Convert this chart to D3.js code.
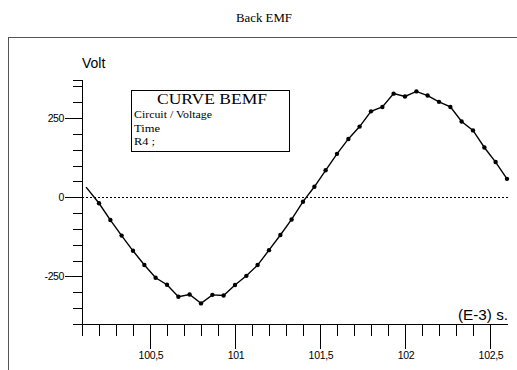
<!DOCTYPE html>
<html>
<head>
<meta charset="utf-8">
<script src="https://cdn.jsdelivr.net/npm/d3@7"></script>
<style>
  body { margin: 0; background: #fff; }
  svg { display: block; }
</style>
</head>
<body>
<svg id="chart" width="517" height="370"></svg>
<script>
// time in ms (E-3 s), voltage in V
const times = [100.124, 100.2, 100.267, 100.333, 100.4, 100.467, 100.533, 100.6, 100.667, 100.733,
    100.8, 100.867, 100.933, 101.0, 101.067, 101.133, 101.2, 101.267, 101.333, 101.4,
    101.467, 101.533, 101.6, 101.667, 101.733, 101.8, 101.867, 101.933, 102.0, 102.067,
    102.133, 102.2, 102.267, 102.333, 102.4, 102.467, 102.533, 102.6];
const volts = [32, -19, -72, -121, -169, -214, -254, -276, -314, -307,
    -335, -308, -310, -277, -248, -214, -167, -119, -70, -14,
    33, 85, 137, 184, 223, 271, 285, 327, 318, 334,
    321, 301, 285, 239, 211, 157, 111, 58];

const xMajor = [100.5, 101, 101.5, 102, 102.5];
const xMinor = [100.1, 100.2, 100.3, 100.4, 100.6, 100.7, 100.8, 100.9, 101.1, 101.2, 101.3, 101.4,
    101.6, 101.7, 101.8, 101.9, 102.1, 102.2, 102.3, 102.4];
const yMajor = [-250, 0, 250];
const yMinor = [-400, -350, -300, -200, -150, -100, -50, 50, 100, 150, 200, 300, 350, 370];

const legendLines = ["Circuit / Voltage", "Time", "R4 ;"];
const legendWidths = [78, 26, 21];

const sans = "'Liberation Sans', Arial, sans-serif";
const serif = "'Liberation Serif', 'Times New Roman', serif";

const svg = d3.select("#chart");
const data = times.map((t, i) => ({ t: t, v: volts[i] }));

const x = d3.scaleLinear().domain([100.1, 102.6]).range([82, 507]);
const y = d3.scaleLinear().domain([-400, 370]).range([324, 80]);
const fmt = d => String(d).replace(".", ",");

// outer frame (runs off the page)
svg.append("rect")
    .attr("x", 8.5).attr("y", 37.5)
    .attr("width", 540).attr("height", 360)
    .attr("fill", "none").attr("stroke", "#555");

svg.append("text")
    .attr("x", 264).attr("y", 21.5)
    .attr("text-anchor", "middle")
    .attr("font-family", serif).attr("font-size", 13.5)
    .attr("textLength", 56).attr("lengthAdjust", "spacingAndGlyphs")
    .text("Back EMF");

// y axis
const yAxisG = svg.append("g").attr("transform", "translate(82,0)");
yAxisG.append("line")
    .attr("x1", 0.5).attr("x2", 0.5)
    .attr("y1", y(370)).attr("y2", y(-400))
    .attr("stroke", "#000");
yAxisG.selectAll("line.minor")
    .data(yMinor)
    .join("line")
    .attr("class", "minor")
    .attr("x1", -9).attr("x2", 0.5)
    .attr("y1", d => Math.round(y(d)) + 0.5).attr("y2", d => Math.round(y(d)) + 0.5)
    .attr("stroke", "#000");
yAxisG.selectAll("line.major")
    .data(yMajor)
    .join("line")
    .attr("class", "major")
    .attr("x1", -17).attr("x2", 0.5)
    .attr("y1", d => Math.round(y(d)) + 0.5).attr("y2", d => Math.round(y(d)) + 0.5)
    .attr("stroke", "#000");
yAxisG.selectAll("text")
    .data(yMajor)
    .join("text")
    .attr("x", -18).attr("y", d => y(d) + 4)
    .attr("text-anchor", "end")
    .attr("font-family", sans).attr("font-size", 10.5)
    .attr("letter-spacing", -0.4)
    .text(d => d);

svg.append("text")
    .attr("x", 82).attr("y", 68)
    .attr("font-family", sans).attr("font-size", 14)
    .text("Volt");

// x axis
const xAxisG = svg.append("g").attr("transform", "translate(0,324)");
xAxisG.append("line")
    .attr("x1", x(100.1)).attr("x2", 508)
    .attr("y1", 0.5).attr("y2", 0.5)
    .attr("stroke", "#000");
xAxisG.selectAll("line.minor")
    .data(xMinor)
    .join("line")
    .attr("class", "minor")
    .attr("x1", d => Math.round(x(d)) + 0.5).attr("x2", d => Math.round(x(d)) + 0.5)
    .attr("y1", 0).attr("y2", 12)
    .attr("stroke", "#000");
xAxisG.selectAll("line.major")
    .data(xMajor)
    .join("line")
    .attr("class", "major")
    .attr("x1", d => Math.round(x(d)) + 0.5).attr("x2", d => Math.round(x(d)) + 0.5)
    .attr("y1", 0).attr("y2", 25)
    .attr("stroke", "#000");
xAxisG.selectAll("text")
    .data(xMajor)
    .join("text")
    .attr("x", d => x(d) + 1).attr("y", 35)
    .attr("text-anchor", "middle")
    .attr("font-family", sans).attr("font-size", 10.5)
    .attr("letter-spacing", -0.3)
    .text(fmt);

svg.append("text")
    .attr("x", 458).attr("y", 320)
    .attr("font-family", sans).attr("font-size", 14)
    .attr("textLength", 50).attr("lengthAdjust", "spacingAndGlyphs")
    .text("(E-3) s.");

// zero line
svg.append("line")
    .attr("x1", x(100.1)).attr("x2", 508)
    .attr("y1", Math.round(y(0)) + 0.5).attr("y2", Math.round(y(0)) + 0.5)
    .attr("stroke", "#000").attr("stroke-dasharray", "2,2");

// curve
const line = d3.line().x(d => x(d.t)).y(d => y(d.v));
svg.append("path")
    .datum(data)
    .attr("d", line)
    .attr("fill", "none")
    .attr("stroke", "#000")
    .attr("stroke-width", 1.4);
svg.append("g")
    .selectAll("circle")
    .data(data.slice(1))
    .join("circle")
    .attr("cx", d => x(d.t)).attr("cy", d => y(d.v))
    .attr("r", 2.2)
    .attr("fill", "#000");

// legend box
const leg = svg.append("g");
leg.append("rect")
    .attr("x", 131.5).attr("y", 90.5)
    .attr("width", 158).attr("height", 61)
    .attr("fill", "#fff").attr("stroke", "#000");
leg.append("text")
    .attr("x", 157).attr("y", 103.5)
    .attr("font-family", serif).attr("font-size", 15.5)
    .attr("textLength", 110).attr("lengthAdjust", "spacingAndGlyphs")
    .text("CURVE BEMF");
leg.selectAll("text.item")
    .data(legendLines)
    .join("text")
    .attr("class", "item")
    .attr("x", 134)
    .attr("y", (d, i) => 118 + i * 13.5)
    .attr("font-family", serif).attr("font-size", 11)
    .attr("textLength", (d, i) => legendWidths[i]).attr("lengthAdjust", "spacingAndGlyphs")
    .text(d => d);
</script>
</body>
</html>
